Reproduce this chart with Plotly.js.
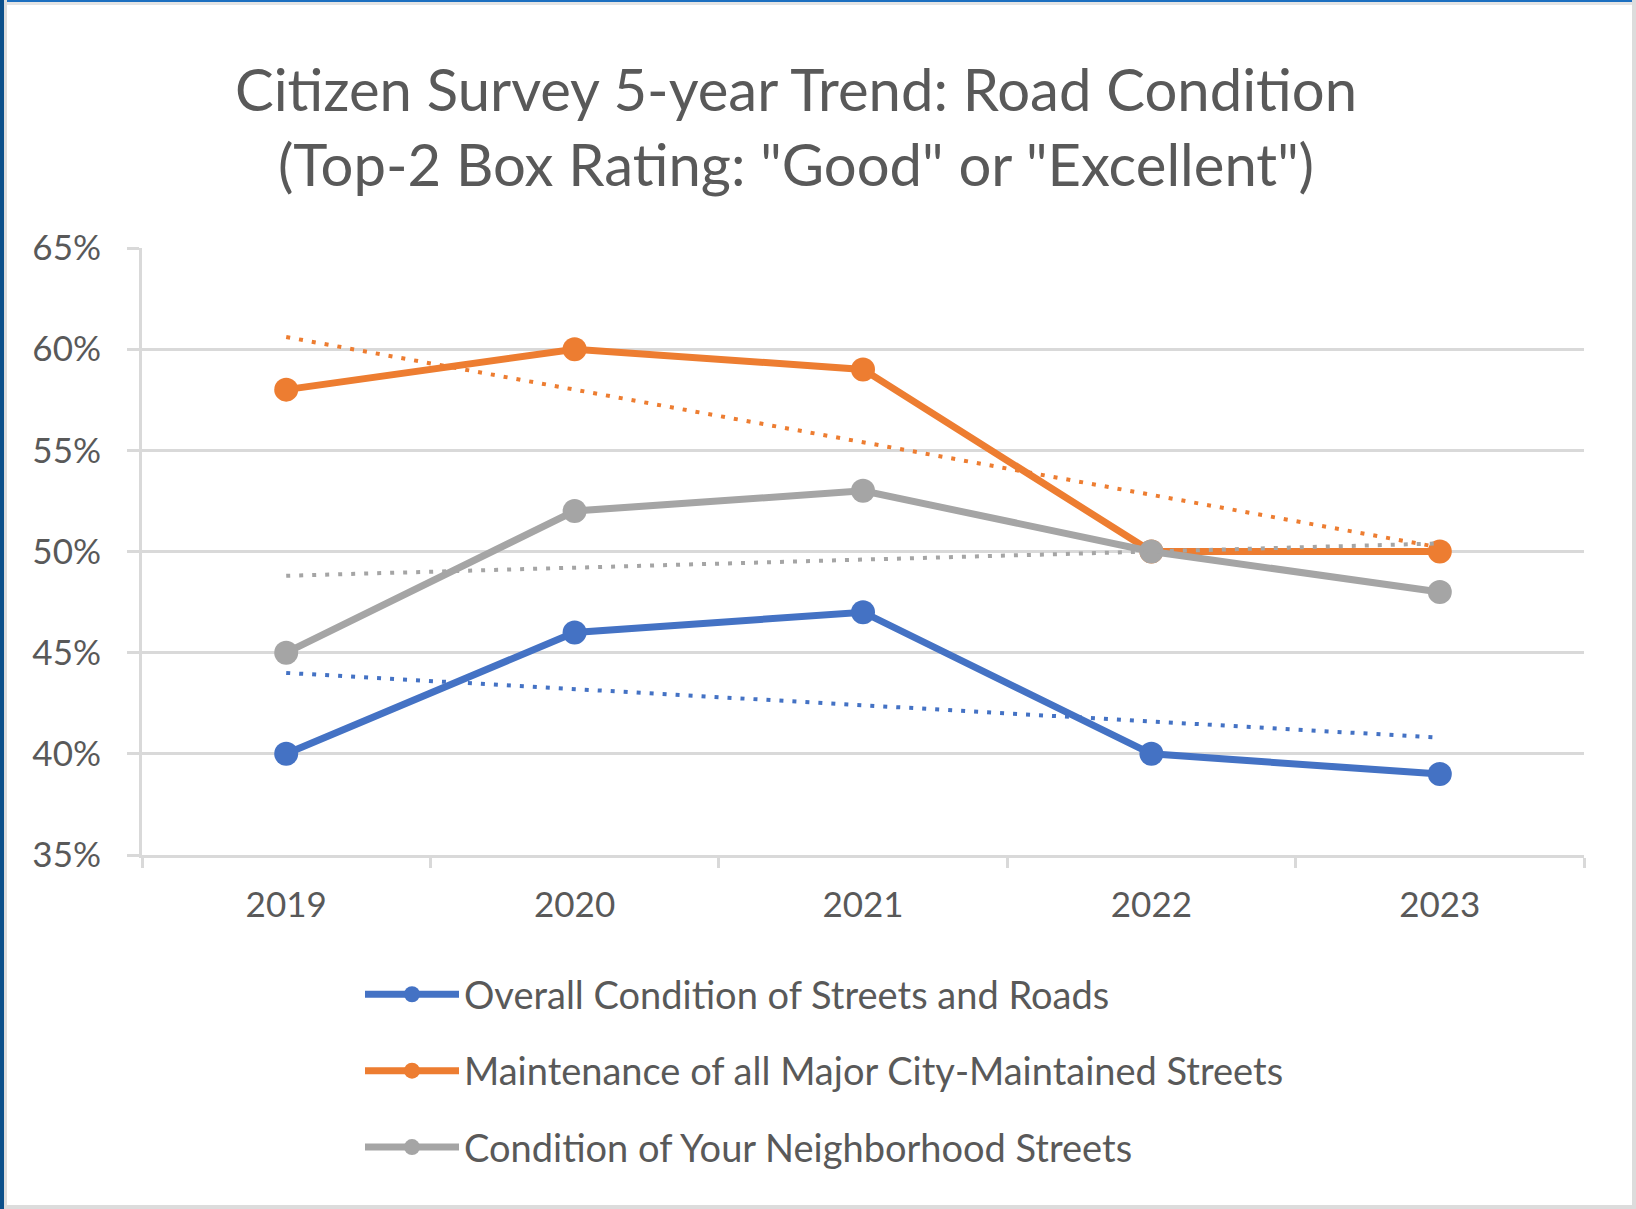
<!DOCTYPE html>
<html>
<head>
<meta charset="utf-8">
<script src="https://cdn.plot.ly/plotly-3.0.1.min.js"></script>
<style>
  html, body { margin: 0; padding: 0; background: #ffffff; }
  #wrap { position: relative; width: 1636px; height: 1209px; overflow: hidden; background: #ffffff; }
  #chart { position: absolute; left: 0; top: 0; width: 1636px; height: 1209px; }
  .bl { position: absolute; left: 0; top: 0; width: 4px; height: 1209px; background: #0B4F8A; }
  .bl2 { position: absolute; left: 4px; top: 0; width: 3px; height: 1209px; background: #DCDCDC; }
  .bt { position: absolute; left: 0; top: 0; width: 1636px; height: 2px; background: #1C6FC0; }
  .bt2 { position: absolute; left: 4px; top: 2px; width: 1632px; height: 3px; background: #E4E4E4; }
  .br { position: absolute; right: 0; top: 0; width: 4px; height: 1209px; background: #DCDCDC; }
  .bb { position: absolute; left: 0; bottom: 0; width: 1636px; height: 4px; background: #DCDCDC; }
</style>
</head>
<body>
<div id="wrap">
  <div id="chart"></div>
  <div class="bt"></div><div class="bt2"></div>
  <div class="br"></div><div class="bb"></div>
  <div class="bl"></div><div class="bl2"></div>
</div>
<script>
const years = ['2019', '2020', '2021', '2022', '2023'];
const seriesNames = [
  'Overall Condition of Streets and Roads',
  'Maintenance of all Major City-Maintained Streets',
  'Condition of Your Neighborhood Streets'
];
const overallCondition = [40, 46, 47, 40, 39];
const majorStreetsMaintenance = [58, 60, 59, 50, 50];
const neighborhoodStreets = [45, 52, 53, 50, 48];
// linear trendline end values (2019, 2023)
const trendYears = ['2019', '2023'];
const overallTrend = [44.0, 40.8];
const majorTrend = [60.6, 50.2];
const neighborhoodTrend = [48.8, 50.4];
const yTicks = [35, 40, 45, 50, 55, 60, 65];
const yTickLabels = ['35%', '40%', '45%', '50%', '55%', '60%', '65%'];

const colors = ['#4472C4', '#ED7D31', '#A5A5A5'];
const mainValues = [overallCondition, majorStreetsMaintenance, neighborhoodStreets];
const trendValues = [overallTrend, majorTrend, neighborhoodTrend];

const FONT = 'Lato, "Open Sans", sans-serif';
const TXT = '#595959';
const GRID = '#D9D9D9';

const traces = [];
mainValues.forEach((vals, i) => {
  traces.push({
    type: 'scatter', mode: 'lines+markers',
    x: years, y: vals, name: seriesNames[i],
    legendgroup: 'g' + i,
    line: { color: colors[i], width: 7 },
    marker: { color: colors[i], size: 24, line: { width: 0 } },
    hoverinfo: 'skip'
  });
});
trendValues.forEach((vals, i) => {
  traces.push({
    type: 'scatter', mode: 'lines',
    x: trendYears, y: vals, showlegend: false,
    legendgroup: 'g' + i,
    line: { color: colors[i], width: 4, dash: '4px,9px' },
    hoverinfo: 'skip'
  });
});

const layout = {
  width: 1636, height: 1209,
  paper_bgcolor: 'rgba(0,0,0,0)', plot_bgcolor: '#ffffff',
  margin: { l: 142, r: 52, t: 248, b: 354, autoexpand: false },
  font: { family: FONT, color: TXT, size: 35 },
  title: {
    text: 'Citizen Survey 5-year Trend: Road Condition<br>(Top-2 Box Rating: "Good" or "Excellent")',
    font: { family: FONT, size: 58, color: TXT },
    x: 796 / 1636, xref: 'container', xanchor: 'center',
    y: 1 - 111 / 1209, yref: 'container', yanchor: 'middle'
  },
  xaxis: {
    type: 'category', categoryarray: years, range: [-0.5, 4.5],
    showgrid: false, zeroline: false,
    showline: true, linecolor: GRID, linewidth: 3,
    ticks: 'outside', tickson: 'boundaries', ticklen: 10, tickwidth: 3, tickcolor: GRID,
    tickfont: { family: FONT, size: 35, color: TXT },
    ticklabelstandoff: 17, fixedrange: true
  },
  yaxis: {
    range: [35, 65], tickvals: yTicks, ticktext: yTickLabels,
    showgrid: true, gridcolor: GRID, gridwidth: 3, zeroline: false,
    showline: true, linecolor: GRID, linewidth: 3,
    ticks: 'outside', ticklen: 12, tickwidth: 3, tickcolor: GRID,
    tickfont: { family: FONT, size: 35, color: TXT },
    ticklabelstandoff: 19, fixedrange: true
  },
  showlegend: true,
  legend: {
    orientation: 'v', traceorder: 'grouped', tracegroupgap: 24,
    x: (360 - 142) / 1442, xanchor: 'left',
    y: -0.178, yanchor: 'top',
    itemwidth: 94, itemsizing: 'trace',
    font: { family: FONT, size: 38, color: TXT },
    bgcolor: 'rgba(0,0,0,0)', borderwidth: 0
  }
};

Plotly.newPlot('chart', traces, layout, { displayModeBar: false, staticPlot: true });
</script>
</body>
</html>
